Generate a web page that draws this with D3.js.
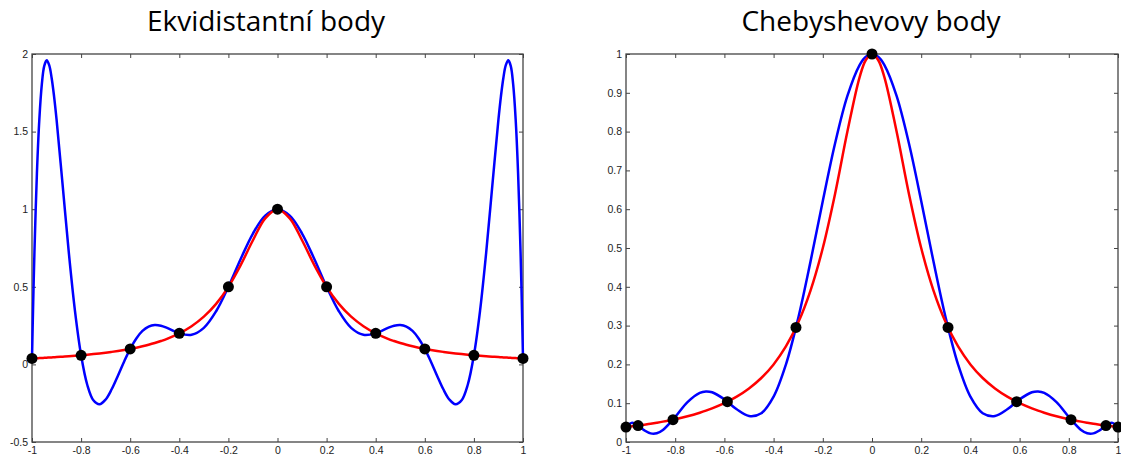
<!DOCTYPE html>
<meta charset="utf-8">
<style>
body { margin: 0; background: #fff; }
.title { font-family: "Open Sans", "Noto Sans", sans-serif; font-size: 28px; fill: #000; }
.tick text { font-family: "Liberation Sans", Arial, sans-serif; font-size: 10.5px; fill: #222; }
.tick line { stroke: #444; }
.frame { fill: none; stroke: #444; stroke-width: 1.3px; }
</style>
<svg width="1121" height="457"></svg>
<script src="https://d3js.org/d3.v7.min.js"></script>
<script>

// --- equidistant nodes, degree 10 ---
var equiX = [-1, -0.995, -0.99, -0.98, -0.97, -0.96, -0.95, -0.94, -0.93, -0.92, -0.91, -0.9,
  -0.875, -0.85, -0.825, -0.8, -0.775, -0.75, -0.725, -0.7, -0.675, -0.65, -0.625, -0.6,
  -0.575, -0.55, -0.525, -0.5, -0.475, -0.45, -0.4, -0.35, -0.3, -0.25, -0.2, -0.15, -0.1, -0.05,
  0,
  0.05, 0.1, 0.15, 0.2, 0.25, 0.3, 0.35, 0.4, 0.45, 0.475, 0.5, 0.525, 0.55, 0.575,
  0.6, 0.625, 0.65, 0.675, 0.7, 0.725, 0.75, 0.775, 0.8, 0.825, 0.85, 0.875,
  0.9, 0.91, 0.92, 0.93, 0.94, 0.95, 0.96, 0.97, 0.98, 0.99, 0.995, 1];
var equiPoly = [0.0385, 0.4072, 0.7261, 1.2303, 1.5810, 1.8044, 1.9236, 1.9590, 1.9280, 1.8458, 1.7258, 1.5787,
  1.1517, 0.7195, 0.3450, 0.0588, -0.1312, -0.2315, -0.2569, -0.2262, -0.1588, -0.0726, 0.0175, 0.1,
  0.1674, 0.2156, 0.2438, 0.2538, 0.2492, 0.2350, 0.2, 0.1906, 0.2354, 0.3426, 0.5, 0.6790, 0.8434, 0.9586,
  1,
  0.9586, 0.8434, 0.6790, 0.5, 0.3426, 0.2354, 0.1906, 0.2, 0.2350, 0.2492, 0.2538, 0.2438, 0.2156, 0.1674,
  0.1, 0.0175, -0.0726, -0.1588, -0.2262, -0.2569, -0.2315, -0.1312, 0.0588, 0.3450, 0.7195, 1.1517,
  1.5787, 1.7258, 1.8458, 1.9280, 1.9590, 1.9236, 1.8044, 1.5810, 1.2303, 0.7261, 0.4072, 0.0385];
var equiFunc = [0.0385, 0.0388, 0.0392, 0.0400, 0.0408, 0.0416, 0.0424, 0.0433, 0.0442, 0.0451, 0.0461, 0.0471,
  0.0497, 0.0525, 0.0555, 0.0588, 0.0624, 0.0664, 0.0707, 0.0755, 0.0807, 0.0865, 0.0929, 0.1,
  0.1079, 0.1168, 0.1267, 0.1379, 0.1506, 0.1649, 0.2, 0.2462, 0.3077, 0.3902, 0.5, 0.64, 0.8, 0.9412,
  1,
  0.9412, 0.8, 0.64, 0.5, 0.3902, 0.3077, 0.2462, 0.2, 0.1649, 0.1506, 0.1379, 0.1267, 0.1168, 0.1079,
  0.1, 0.0929, 0.0865, 0.0807, 0.0755, 0.0707, 0.0664, 0.0624, 0.0588, 0.0555, 0.0525, 0.0497,
  0.0471, 0.0461, 0.0451, 0.0442, 0.0433, 0.0424, 0.0416, 0.0408, 0.0400, 0.0392, 0.0388, 0.0385];
var equiNodeX = [-1, -0.8, -0.6, -0.4, -0.2, 0, 0.2, 0.4, 0.6, 0.8, 1];
var equiNodeY = [0.0385, 0.0588, 0.1, 0.2, 0.5, 1, 0.5, 0.2, 0.1, 0.0588, 0.0385];

// --- Chebyshev nodes, degree 10 ---
var chebX = [-1, -0.975, -0.951, -0.925, -0.9, -0.875, -0.85, -0.8, -0.75, -0.7, -0.675, -0.65,
  -0.6, -0.55, -0.5, -0.45, -0.4, -0.35, -0.3, -0.25, -0.2, -0.15, -0.1, -0.05, -0.025,
  0,
  0.025, 0.05, 0.1, 0.15, 0.2, 0.25, 0.3, 0.35, 0.4, 0.45, 0.5, 0.55, 0.6,
  0.65, 0.675, 0.7, 0.75, 0.8, 0.85, 0.875, 0.9, 0.925, 0.951, 0.975, 1];
var chebPoly = [0.0385, 0.0498, 0.0424, 0.0299, 0.0223, 0.0225, 0.0309, 0.0647, 0.1030, 0.1269, 0.1304, 0.1282,
  0.1100, 0.0842, 0.0671, 0.0742, 0.1169, 0.1996, 0.3191, 0.4649, 0.6213, 0.7698, 0.8919, 0.9721, 0.9930,
  1,
  0.9930, 0.9721, 0.8919, 0.7698, 0.6213, 0.4649, 0.3191, 0.1996, 0.1169, 0.0742, 0.0671, 0.0842, 0.1100,
  0.1282, 0.1304, 0.1269, 0.1030, 0.0647, 0.0309, 0.0225, 0.0223, 0.0299, 0.0424, 0.0498, 0.0385];
var chebFunc = [0.0385, 0.0404, 0.0424, 0.0447, 0.0471, 0.0497, 0.0525, 0.0588, 0.0664, 0.0755, 0.0807, 0.0865,
  0.1, 0.1168, 0.1379, 0.1649, 0.2, 0.2462, 0.3077, 0.3902, 0.5, 0.64, 0.8, 0.9412, 0.9846,
  1,
  0.9846, 0.9412, 0.8, 0.64, 0.5, 0.3902, 0.3077, 0.2462, 0.2, 0.1649, 0.1379, 0.1168, 0.1,
  0.0865, 0.0807, 0.0755, 0.0664, 0.0588, 0.0525, 0.0497, 0.0471, 0.0447, 0.0424, 0.0404, 0.0385];
var chebNodeX = [-1, -0.951, -0.809, -0.588, -0.309, 0, 0.309, 0.588, 0.809, 0.951, 1];
var chebNodeY = [0.0385, 0.0424, 0.0576, 0.1038, 0.2952, 1, 0.2952, 0.1038, 0.0576, 0.0424, 0.0385];

var xTicks = [-1, -0.8, -0.6, -0.4, -0.2, 0, 0.2, 0.4, 0.6, 0.8, 1];
var equiYTicks = [-0.5, 0, 0.5, 1, 1.5, 2];
var chebYTicks = [0, 0.1, 0.2, 0.3, 0.4, 0.5, 0.6, 0.7, 0.8, 0.9, 1];

var svg = d3.select("svg");

function fmt(d) { return String(+d.toFixed(2)); }

function panel(opt) {
  var x = d3.scaleLinear().domain([-1, 1]).range([opt.left, opt.right]);
  var y = d3.scaleLinear().domain(opt.yDomain).range([opt.bottom, opt.top]);
  var g = svg.append("g");

  g.append("text")
      .attr("class", "title")
      .attr("x", opt.titleX)
      .attr("y", 31)
      .attr("text-anchor", "middle")
      .text(opt.title);

  // ticks point inward on all four sides, labels only bottom and left
  g.append("g")
      .attr("transform", "translate(0," + opt.bottom + ")")
      .call(d3.axisBottom(x).tickValues(xTicks).tickSize(-4).tickPadding(5).tickFormat(fmt));
  g.append("g")
      .attr("transform", "translate(0," + opt.top + ")")
      .call(d3.axisTop(x).tickValues(xTicks).tickSize(-4).tickFormat(""));
  g.append("g")
      .attr("transform", "translate(" + opt.left + ",0)")
      .call(d3.axisLeft(y).tickValues(opt.yTicks).tickSize(-4).tickPadding(4).tickFormat(fmt));
  g.append("g")
      .attr("transform", "translate(" + opt.right + ",0)")
      .call(d3.axisRight(y).tickValues(opt.yTicks).tickSize(-4).tickFormat(""));
  g.selectAll(".domain").remove();

  g.append("rect")
      .attr("class", "frame")
      .attr("x", opt.left)
      .attr("y", opt.top)
      .attr("width", opt.right - opt.left)
      .attr("height", opt.bottom - opt.top);

  var line = d3.line()
      .x(function(d) { return x(d[0]); })
      .y(function(d) { return y(d[1]); })
      .curve(d3.curveCatmullRom);

  g.append("path")
      .datum(d3.zip(opt.xs, opt.poly))
      .attr("fill", "none")
      .attr("stroke", "#0000ff")
      .attr("stroke-width", 2.5)
      .attr("d", line);

  g.append("path")
      .datum(d3.zip(opt.xs, opt.func))
      .attr("fill", "none")
      .attr("stroke", "#ff0000")
      .attr("stroke-width", 2.5)
      .attr("d", line);

  g.selectAll("circle")
      .data(d3.zip(opt.nodeX, opt.nodeY))
      .enter().append("circle")
      .attr("cx", function(d) { return x(d[0]); })
      .attr("cy", function(d) { return y(d[1]); })
      .attr("r", 5.5)
      .attr("fill", "#000");
}

panel({
  title: "Ekvidistantní body", titleX: 266,
  left: 32, right: 523, top: 54, bottom: 442,
  yDomain: [-0.5, 2], yTicks: equiYTicks,
  xs: equiX, poly: equiPoly, func: equiFunc,
  nodeX: equiNodeX, nodeY: equiNodeY
});

panel({
  title: "Chebyshevovy body", titleX: 871,
  left: 626, right: 1118, top: 54, bottom: 442,
  yDomain: [0, 1], yTicks: chebYTicks,
  xs: chebX, poly: chebPoly, func: chebFunc,
  nodeX: chebNodeX, nodeY: chebNodeY
});

</script>
